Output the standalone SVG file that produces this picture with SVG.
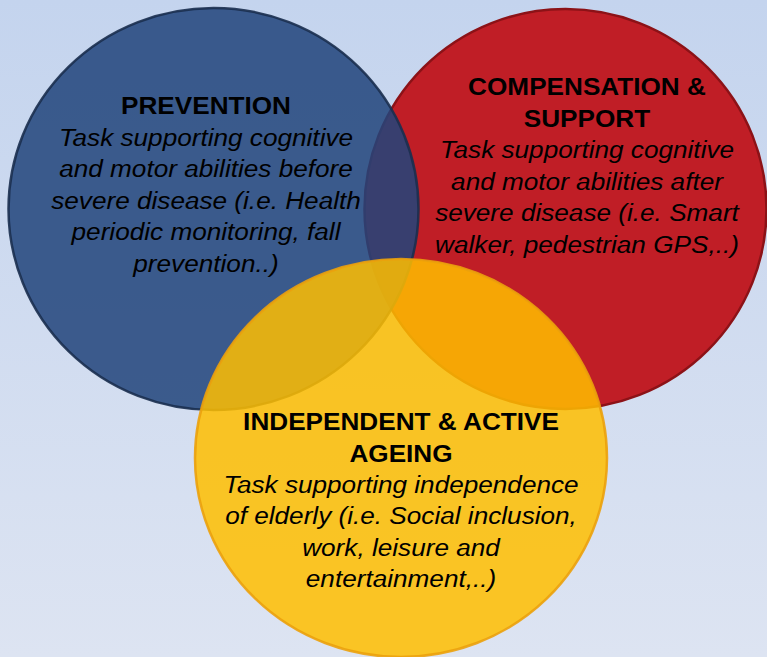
<svg xmlns="http://www.w3.org/2000/svg" width="767" height="657" viewBox="0 0 767 657">
<defs>
<linearGradient id="bg" x1="0" y1="0" x2="0" y2="1">
<stop offset="0" stop-color="#c4d4ee"/>
<stop offset="1" stop-color="#dde4f2"/>
</linearGradient>
<style>
text{font-family:"Liberation Sans",Arial,sans-serif;font-size:24px;fill:#000;text-anchor:middle}
.h{font-weight:bold}
.b{font-style:italic}
</style>
</defs>
<rect width="767" height="657" fill="url(#bg)"/>
<g id="compensation">
<ellipse cx="565.5" cy="209" rx="201" ry="200" fill="#c01e26" stroke="#8c1217" stroke-width="2.5"/>
</g>
<g id="prevention">
<ellipse cx="213.5" cy="209" rx="205" ry="201" fill="rgb(34,69,123)" fill-opacity="0.86" stroke="#1b2f4f" stroke-width="2.5" stroke-opacity="0.9"/>
</g>
<g id="independent">
<ellipse cx="401" cy="458" rx="206" ry="199" fill="rgb(255,190,0)" fill-opacity="0.85" stroke="#eba10c" stroke-width="2.5" stroke-opacity="0.9"/>
</g>
<g id="connectors"></g>
<g id="prevention-text" transform="translate(206 0) scale(1.09 1)">
<text class="h" x="0" y="114">PREVENTION</text>
<text class="b" x="0" y="146">Task supporting cognitive</text>
<text class="b" x="0" y="177.5">and motor abilities before</text>
<text class="b" x="0" y="209">severe disease (i.e. Health</text>
<text class="b" x="0" y="240.5">periodic monitoring, fall</text>
<text class="b" x="0" y="272">prevention..)</text>
</g>
<g id="compensation-text" transform="translate(587 0) scale(1.09 1)">
<text class="h" x="0" y="95">COMPENSATION &amp;</text>
<text class="h" x="0" y="127">SUPPORT</text>
<text class="b" x="0" y="158.5">Task supporting cognitive</text>
<text class="b" x="0" y="190">and motor abilities after</text>
<text class="b" x="0" y="221.5">severe disease (i.e. Smart</text>
<text class="b" x="0" y="253">walker, pedestrian GPS,..)</text>
</g>
<g id="independent-text" transform="translate(401 0) scale(1.09 1)">
<text class="h" x="0" y="430">INDEPENDENT &amp; ACTIVE</text>
<text class="h" x="0" y="462">AGEING</text>
<text class="b" x="0" y="493">Task supporting independence</text>
<text class="b" x="0" y="524.5">of elderly (i.e. Social inclusion,</text>
<text class="b" x="0" y="556">work, leisure and</text>
<text class="b" x="0" y="587">entertainment,..)</text>
</g>
</svg>
